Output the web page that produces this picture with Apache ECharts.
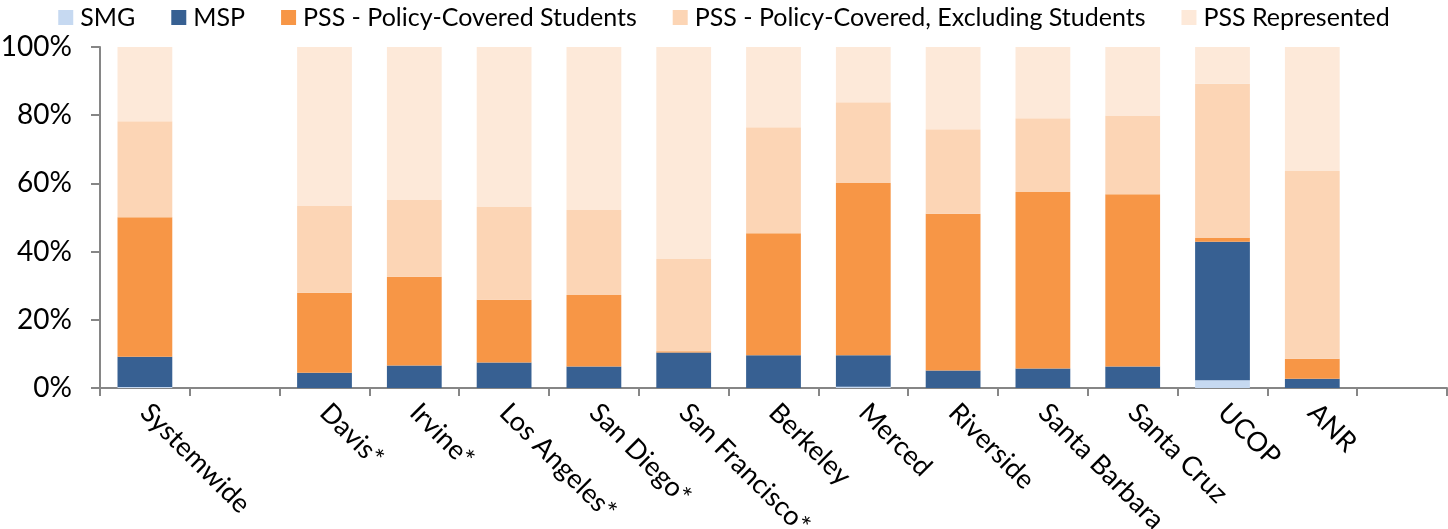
<!DOCTYPE html>
<html>
<head>
<meta charset="utf-8">
<script src="https://cdn.jsdelivr.net/npm/echarts@6/dist/echarts.min.js"></script>
<style>
  html, body { margin: 0; padding: 0; background: #fff; }
  #chart { width: 1448px; height: 529px; }
</style>
</head>
<body>
<div id="chart"></div>
<script>
// categories ('' = spacer slot)
const categories = ['Systemwide', '', 'Davis*', 'Irvine*', 'Los Angeles*', 'San Diego*', 'San Francisco*',
  'Berkeley', 'Merced', 'Riverside', 'Santa Barbara', 'Santa Cruz', 'UCOP', 'ANR', '']

// share of headcount, percent
const smg = [0.3, null, 0, 0, 0, 0, 0, 0, 0.4, 0, 0, 0, 2.3, 0, null]
const msp = [8.9, null, 4.5, 6.6, 7.5, 6.3, 10.4, 9.6, 9.2, 5.1, 5.7, 6.3, 40.6, 2.7, null]
const pssStudents = [40.9, null, 23.4, 26.0, 18.4, 21.0, 0.4, 35.8, 50.5, 46.0, 51.8, 50.5, 1.1, 5.9, null]
const pssExclStudents = [28.1, null, 25.5, 22.5, 27.2, 24.9, 27.0, 31.1, 23.7, 24.8, 21.6, 23.1, 45.2, 55.0, null]
const pssRepresented = [21.8, null, 46.6, 44.9, 46.9, 47.8, 62.2, 23.5, 16.2, 24.1, 20.9, 20.1, 10.8, 36.4, null]

const yTicks = ['0%', '20%', '40%', '60%', '80%', '100%']

const seriesDefs = [
  { name: 'SMG', data: smg, color: '#C6D9F1' },
  { name: 'MSP', data: msp, color: '#376092' },
  { name: 'PSS - Policy-Covered Students', data: pssStudents, color: '#F79646' },
  { name: 'PSS - Policy-Covered, Excluding Students', data: pssExclStudents, color: '#FCD5B5' },
  { name: 'PSS Represented', data: pssRepresented, color: '#FDE9D9' },
]

const font = 'Lato, Carlito, "Noto Sans", sans-serif'
const axisGray = '#868686'

const myChart = echarts.init(document.getElementById('chart'), null, { renderer: 'canvas' })

const option = {
  animation: false,
  legend: {
    top: 5,
    left: 'center',
    padding: 0,
    itemWidth: 15,
    itemHeight: 15,
    itemGap: 36,
    icon: 'rect',
    textStyle: { fontFamily: font, fontSize: 25, color: '#000', padding: [0, 0, 0, 2] },
    data: seriesDefs.map((s) => s.name),
  },
  grid: { left: 100, right: 1, top: 47, bottom: 141, containLabel: false, outerBoundsMode: 'none' },
  xAxis: {
    type: 'category',
    data: categories,
    axisLine: { lineStyle: { color: axisGray, width: 2 } },
    axisTick: { show: true, length: 8, interval: 0, lineStyle: { color: axisGray, width: 2 } },
    axisLabel: {
      interval: 0,
      rotate: -45,
      margin: 20,
      fontFamily: font,
      fontSize: 27,
      color: '#000',
    },
  },
  yAxis: {
    type: 'value',
    min: 0,
    max: 100,
    interval: 20,
    splitLine: { show: false },
    axisLine: { show: true, lineStyle: { color: axisGray, width: 2 } },
    axisTick: { show: true, length: 9, lineStyle: { color: axisGray, width: 2 } },
    axisLabel: {
      margin: 28,
      fontFamily: font,
      fontSize: 28,
      color: '#000',
      formatter: (v) => yTicks[Math.round(v / 20)],
    },
  },
  series: seriesDefs.map((s) => ({
    name: s.name,
    type: 'bar',
    stack: 'total',
    barWidth: '61%',
    data: s.data,
    itemStyle: { color: s.color },
  })),
}

myChart.setOption(option)
</script>
</body>
</html>
